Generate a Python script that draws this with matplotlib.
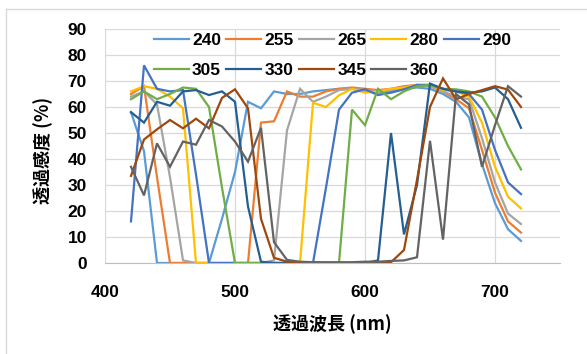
import numpy as np
import matplotlib.pyplot as plt
from matplotlib.lines import Line2D

# wavelength (nm), 420..720 step 10
wl = [420, 430, 440, 450, 460, 470, 480, 490, 500, 510, 520, 530, 540, 550, 560, 570,
      580, 590, 600, 610, 620, 630, 640, 650, 660, 670, 680, 690, 700, 710, 720]

s240 = [58, 43, 0, 0, 0, 0, 0, 17, 35, 62, 59.5, 66, 65, 65, 66, 66.5,
        67, 67, 66, 65.5, 66, 67, 67.5, 67, 65, 62, 56, 38, 23, 13, 8.5]
s255 = [65, 68, 33, 0, 0, 0, 0, 0, 0, 0, 54, 54.5, 66, 64, 64, 66,
        67, 67.5, 67, 66.5, 67, 68, 68.5, 68, 66, 63, 59.5, 43.5, 27, 16, 11.7]
s265 = [64, 66, 61, 33, 1, 0, 0, 0, 0, 0, 0, 1, 51, 67, 62, 64,
        66.5, 67, 66.5, 66, 66.5, 67.5, 68, 68, 66, 64, 63, 48, 31, 19, 15]
s280 = [66, 68, 67, 64, 59.5, 0, 0, 0, 0, 0, 0, 0, 0, 0, 61.6, 60,
        64.5, 67, 65.5, 66, 67, 67.5, 68.5, 68.5, 66.5, 66, 64, 54, 37, 25.5, 21]
s290 = [16, 76, 67, 66, 66.5, 34, 0, 0, 0, 0, 0, 0, 0, 0, 0, 29,
        59, 65.5, 66.8, 64.6, 65.5, 66.8, 68.5, 68.5, 67, 66, 65, 59, 43.5, 31, 26.5]
s305 = [63, 66, 63, 65, 67.5, 67, 60, 29, 0, 0, 0, 0, 0, 0, 0, 0,
        0, 59, 53, 67, 63, 66, 68, 68.5, 67, 66.8, 66, 64, 56, 45, 36]
s330 = [58, 54, 62, 60.5, 66, 66.5, 64.6, 66, 62, 21.7, 0.5, 0, 0, 0, 0, 0,
        0, 0, 0, 1, 50, 11, 30, 69, 67, 66, 65.5, 66, 67.5, 63, 52]
s345 = [33.5, 47.5, 51.4, 55, 51.8, 55.5, 51.8, 63.5, 66.8, 59.5, 17, 2, 0.5, 0.3, 0.2, 0,
        0, 0, 0, 0, 0.3, 5, 32, 60, 71, 63, 65, 66.5, 68, 66.7, 60]
s360 = [37, 26, 46, 37, 46.7, 45.5, 55, 52.5, 46.7, 39, 52, 8, 1.2, 0.5, 0.3, 0.3,
        0.3, 0.3, 0.5, 0.5, 0.8, 1, 2.2, 47, 9, 65, 61, 37, 53, 68, 64]

labels = ['240', '255', '265', '280', '290', '305', '330', '345', '360']
series = [s240, s255, s265, s280, s290, s305, s330, s345, s360]
colors = ['#5B9BD5', '#ED7D31', '#A5A5A5', '#FFC000', '#4472C4',
          '#70AD47', '#255E91', '#9E480E', '#636363']

num_font = ['Liberation Sans', 'DejaVu Sans']
jp_font = ['Noto Sans CJK JP', 'DejaVu Sans']

fig = plt.figure(figsize=(5.87, 3.54), dpi=100)
ax = fig.add_axes([105/587, 91/354, 455/587, 234/354])

lines = []
for lab, ys, c in zip(labels, series, colors):
    ln, = ax.plot(wl, ys, color=c, lw=1.6, label=lab, solid_joinstyle='miter')
    lines.append(ln)

ax.set_xlim(400, 750)
ax.set_ylim(0, 90)
ax.set_xticks([400, 500, 600, 700])
ax.set_yticks(range(0, 91, 10))
ax.grid(True, color='#D9D9D9', lw=0.9)
ax.set_axisbelow(True)
for s in ['top', 'right', 'left']:
    ax.spines[s].set_visible(False)
ax.spines['bottom'].set_color('#BFBFBF')
ax.tick_params(length=0)
ax.tick_params(axis='y', pad=13)
ax.tick_params(axis='x', pad=16)
for t in ax.get_xticklabels() + ax.get_yticklabels():
    t.set_fontfamily(num_font)
    t.set_fontweight('bold')
    t.set_fontsize(12.5)

ax.set_ylabel('透過感度 (%)', family=jp_font, fontweight='bold', fontsize=13,
              va='center', ha='center')
ax.yaxis.set_label_coords(-0.136, 0.483)
ax.set_xlabel('透過波長 (nm)', family=jp_font, fontweight='bold', fontsize=13)
ax.xaxis.set_label_coords(0.5, -0.22)

# row-major legend order for 5 columns
order = [0, 5, 1, 6, 2, 7, 3, 8, 4]
leg = ax.legend([lines[i] for i in order], [labels[i] for i in order], ncol=5,
                loc='upper center', bbox_to_anchor=(0.5, 1.0), frameon=False,
                handlelength=2.0, handletextpad=0.2, columnspacing=0.3,
                labelspacing=0.9, borderaxespad=0.1, borderpad=0.1,
                prop={'family': num_font, 'weight': 'bold', 'size': 12.5})

# chart border (cut off on right and bottom)
bc = '#D9D9D9'
fig.add_artist(Line2D([6/587, 6/587], [0, 1 - 9/354], color=bc, lw=1))
fig.add_artist(Line2D([6/587, 1], [1 - 9/354, 1 - 9/354], color=bc, lw=1))

fig.savefig('out.png', dpi=100)
